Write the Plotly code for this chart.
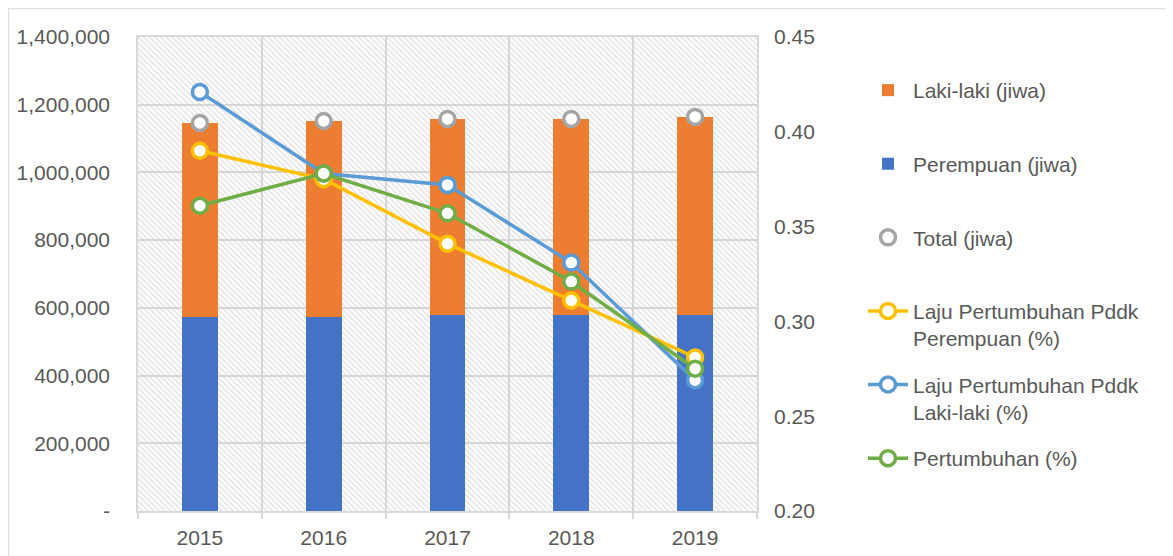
import plotly.graph_objects as go

years = ["2015", "2016", "2017", "2018", "2019"]
perempuan = [573000, 572000, 578000, 579000, 580000]
laki_laki = [573000, 580000, 580000, 579000, 584000]
total = [1146000, 1152000, 1158000, 1158000, 1164000]
laju_perempuan = [0.390, 0.375, 0.341, 0.311, 0.281]
laju_laki = [0.421, 0.378, 0.372, 0.331, 0.269]
pertumbuhan = [0.361, 0.378, 0.357, 0.321, 0.275]

left_ticks = [0, 200000, 400000, 600000, 800000, 1000000, 1200000, 1400000]
left_ticktext = ["-", "200,000", "400,000", "600,000", "800,000", "1,000,000", "1,200,000", "1,400,000"]
right_ticks = [0.20, 0.25, 0.30, 0.35, 0.40, 0.45]

FONT = "Liberation Sans, Arial, sans-serif"
TXT = "#595959"
GRID = "#d9d9d9"

OFF = 8  # default page body margin
W, H = 1173 - OFF, 556 - OFF
# plot area in screen pixels
SL, SR, ST, SB = 138, 757, 37, 511
L, R, T, B = SL - OFF, SR - OFF, ST - OFF, SB - OFF

def px(x):
    return (x - SL) / (SR - SL)

def py(y):
    return (SB - y) / (SB - ST)

fig = go.Figure()

# hatched plot background (decorative)
fig.add_trace(go.Bar(
    x=years, y=[left_ticks[-1]] * len(years), width=1.0,
    marker=dict(color="rgba(0,0,0,0)", line=dict(width=0),
                pattern=dict(shape="\\", fgcolor="#c8c8c8", bgcolor="rgba(0,0,0,0)",
                             size=4, solidity=0.4)),
    showlegend=False, hoverinfo="skip",
))

fig.add_trace(go.Bar(
    x=years, y=perempuan, name="Perempuan (jiwa)<br>&nbsp;", width=0.29,
    marker=dict(color="#4472C4", line=dict(width=0)), legendrank=2, legendgroup="b",
))
fig.add_trace(go.Bar(
    x=years, y=laki_laki, base=perempuan, name="Laki-laki (jiwa)<br>&nbsp;", width=0.29,
    marker=dict(color="#ED7D31", line=dict(width=0)), legendrank=1, legendgroup="a",
))
fig.add_trace(go.Scatter(
    x=years, y=total, name="Total (jiwa)<br>&nbsp;", mode="markers",
    marker=dict(symbol="circle", size=15, color="white", line=dict(color="#A5A5A5", width=3.5)),
    legendrank=3, legendgroup="c",
))

def line_trace(vals, name, color, rank, grp):
    return go.Scatter(
        x=years, y=vals, name=name, mode="lines+markers", yaxis="y2",
        line=dict(color=color, width=3.5),
        marker=dict(symbol="circle", size=15, color="white", line=dict(color=color, width=3.5)),
        legendrank=rank, legendgroup=grp,
    )

fig.add_trace(line_trace(laju_perempuan, "Laju Pertumbuhan Pddk<br>Perempuan (%)", "#FFC000", 4, "d"))
fig.add_trace(line_trace(laju_laki, "Laju Pertumbuhan Pddk<br>Laki-laki (%)", "#5B9BD5", 5, "e"))
fig.add_trace(line_trace(pertumbuhan, "Pertumbuhan (%)<br>&nbsp;", "#70AD47", 6, "f"))

fig.update_layout(
    width=W, height=H,
    margin=dict(l=L, r=W - R, t=T, b=H - B, pad=0, autoexpand=False),
    paper_bgcolor="white", plot_bgcolor="white",
    barmode="overlay", bargap=0,
    font=dict(family=FONT, size=21, color=TXT),
    xaxis=dict(
        type="category", tickson="boundaries", showgrid=True, gridcolor=GRID, gridwidth=1.5,
        ticks="outside", ticklen=6, tickcolor=GRID, tickwidth=1.5,
        showline=True, linecolor=GRID, linewidth=1.5, mirror=True,
        tickfont=dict(size=21, color=TXT), ticklabelstandoff=7,
        range=[-0.5, 4.5], automargin=False,
    ),
    yaxis=dict(
        range=[0, 1400000], tickvals=left_ticks, ticktext=left_ticktext,
        showgrid=True, gridcolor=GRID, gridwidth=1.5, zeroline=False,
        showline=True, linecolor=GRID, linewidth=1.5, mirror=True,
        ticks="", tickfont=dict(size=21, color=TXT), ticklabelstandoff=22, automargin=False,
    ),
    yaxis2=dict(
        overlaying="y", side="right", range=[0.20, 0.45], tickvals=right_ticks,
        tickformat=".2f", showgrid=False, zeroline=False, ticks="",
        tickfont=dict(size=21, color=TXT), ticklabelstandoff=16, automargin=False,
    ),
    legend=dict(
        x=px(863), y=py(70), xanchor="left", yanchor="top",
        font=dict(size=21, color=TXT), bgcolor="rgba(0,0,0,0)",
        traceorder="grouped", tracegroupgap=16, valign="top",
        itemwidth=40,
    ),
    shapes=[
        dict(type="line", xref="paper", yref="paper", x0=px(8), x1=px(1173), y0=py(8.5), y1=py(8.5),
             line=dict(color="#e0e0e0", width=1.5)),
        dict(type="line", xref="paper", yref="paper", x0=px(8.5), x1=px(8.5), y0=py(8), y1=py(556),
             line=dict(color="#e0e0e0", width=1.5)),
    ],
)

fig.write_html("out.html")
